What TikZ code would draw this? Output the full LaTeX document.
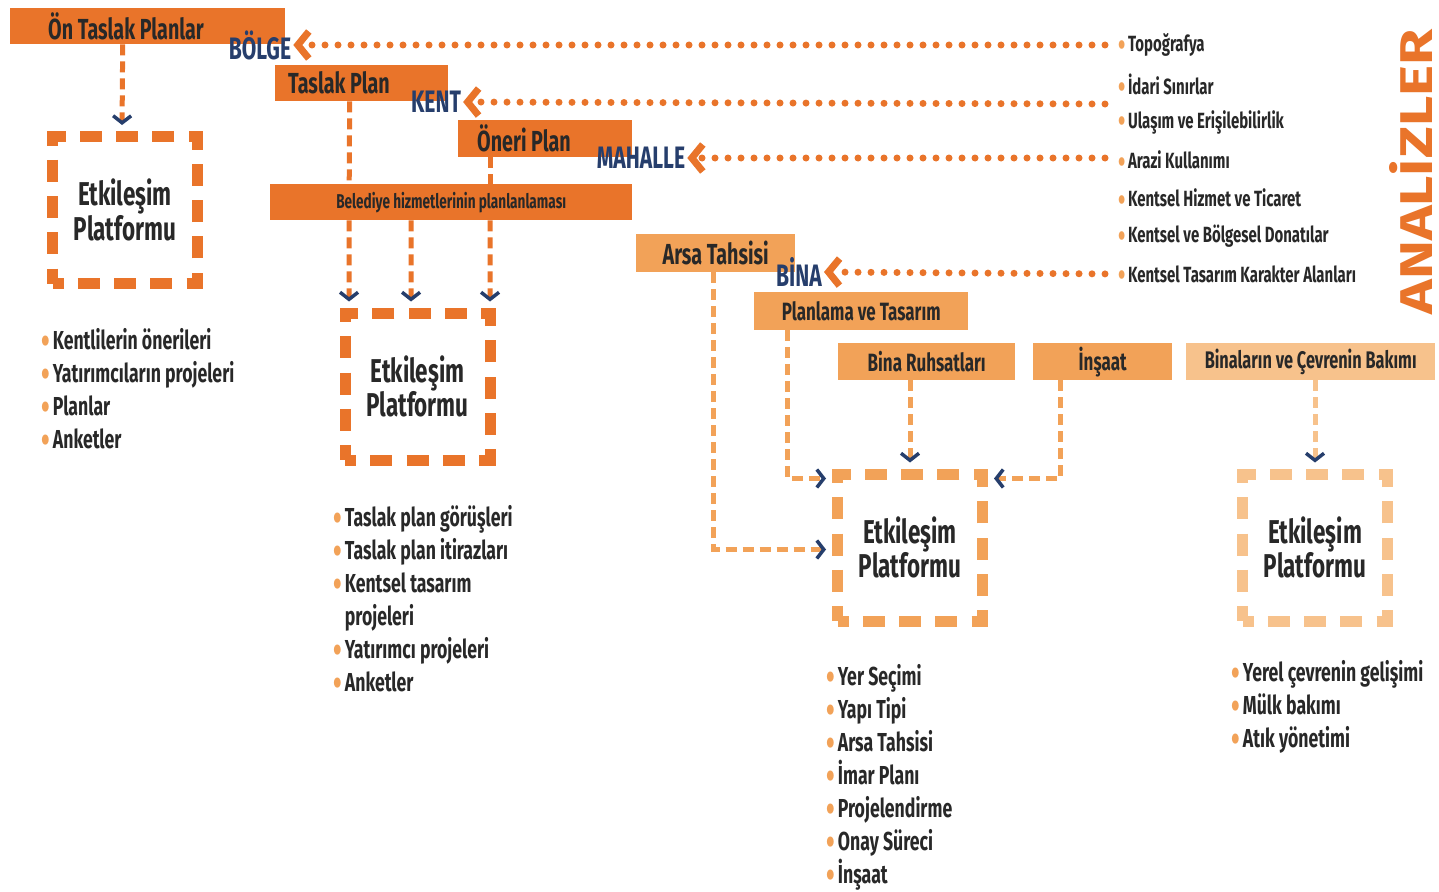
\documentclass[tikz,border=0pt]{standalone}
\usepackage{fontspec}
\setmainfont{Fira Sans}[FakeStretch=0.68]
\usepackage{graphicx}
\usetikzlibrary{arrows.meta,calc}
\definecolor{koyuturuncu}{RGB}{233,116,42}
\definecolor{ortaturuncu}{RGB}{242,162,88}
\definecolor{acikturuncu}{RGB}{247,194,140}
\definecolor{lacivert}{RGB}{38,62,108}
\definecolor{metin}{RGB}{40,40,40}
\newcommand{\madde}{{\color{ortaturuncu}\raisebox{-0.17em}[0pt][0pt]{\scalebox{1.4}{\textbullet}}}\hspace{0.12em}}
\newcommand{\maddebos}{\phantom{\scalebox{1.4}{\textbullet}}\hspace{0.12em}}
\tikzset{
  plankutu/.style={fill=#1, anchor=north west, inner ysep=0pt, text=metin,
    font=\bfseries\fontsize{29}{29}\selectfont},
  plankutu/.default=koyuturuncu,
  platform/.style={draw=#1, line width=11pt, dash pattern=on 22pt off 14.25pt,
    dash phase=11pt, minimum width=145pt, minimum height=147pt, inner sep=0pt,
    align=center, text=metin, font=\bfseries\fontsize{33}{33}\selectfont},
  platform/.default=koyuturuncu,
  seviye/.style={text=lacivert, inner sep=2pt, font=\bfseries\fontsize{31}{31}\selectfont},
  baglanti/.style={draw=#1, line width=5pt, dash pattern=on 11pt off 6pt},
  baglanti/.default=koyuturuncu,
  ok/.style={-{Straight Barb[length=7pt,width=18pt,line width=3.5pt,color=lacivert]},
    shorten >=6pt},
  analizcizgi/.style={draw=koyuturuncu, line width=7pt, line cap=round,
    dash pattern=on 0pt off 13pt,
    -{Straight Barb[length=11pt,width=27pt,line width=7pt,color=koyuturuncu]}},
  analizmadde/.style={anchor=west, inner sep=0pt, text=metin,
    font=\bfseries\fontsize{22}{22}\selectfont},
  liste/.style={anchor=north west, align=left, inner sep=0pt, text=metin,
    font=\bfseries\fontsize{26}{33}\selectfont}
}
\begin{document}
\begin{tikzpicture}[x=1pt,y=-1pt]
\useasboundingbox[fill=white] (0,0) rectangle (1439,891);
% plan kutulari
\node[plankutu, minimum height=36pt, inner xsep=38pt, text width=199pt, align=flush left] (ontaslak) at (10,8) {Ön Taslak Planlar};
\node[plankutu, minimum height=36pt, inner xsep=13pt, text width=147pt, align=flush left] (taslak) at (275,65) {Taslak Plan};
\node[plankutu, minimum height=37pt, inner xsep=19pt, text width=136pt, align=flush left] (oneri) at (458,120) {Öneri Plan};
\node[plankutu, minimum width=362pt, minimum height=36pt, font=\bfseries\fontsize{20}{20}\selectfont] (belediye) at (270,184) {Belediye hizmetlerinin planlanlaması};
\node[plankutu=ortaturuncu, minimum width=159pt, minimum height=38pt] (arsa) at (636,234) {Arsa Tahsisi};
\node[plankutu=ortaturuncu, minimum width=214pt, minimum height=38pt, font=\bfseries\fontsize{25}{25}\selectfont] (planlama) at (754,292) {Planlama ve Tasarım};
\node[plankutu=ortaturuncu, minimum width=177pt, minimum height=37pt, font=\bfseries\fontsize{25}{25}\selectfont] (ruhsat) at (838,343) {Bina Ruhsatları};
\node[plankutu=ortaturuncu, minimum width=139pt, minimum height=37pt, font=\bfseries\fontsize{25}{25}\selectfont] (insaat) at (1033,343) {İnşaat};
\node[plankutu=acikturuncu, minimum width=249pt, minimum height=37pt, font=\bfseries\fontsize{24}{24}\selectfont] (bakim) at (1186,343) {Binaların ve Çevrenin Bakımı};
% etkilesim platformlari
\node[platform] (ep1) at (125,210) {Etkileşim\\Platformu};
\node[platform] (ep2) at (417.5,386.5) {Etkileşim\\Platformu};
\node[platform=ortaturuncu] (ep3) at (910,547.5) {Etkileşim\\Platformu};
\node[platform=acikturuncu] (ep4) at (1315,547.5) {Etkileşim\\Platformu};
% baglantilar
\draw[baglanti, ok] ([xshift=-25pt]ontaslak.south) -- ([xshift=-3pt]ep1.north);
\draw[baglanti] ([xshift=-12pt]taslak.south) -- ([xshift=-102pt]belediye.north);
\draw[baglanti] ([xshift=-55pt]oneri.south) -- ([xshift=39pt]belediye.north);
\draw[baglanti, ok] ([xshift=-102pt]belediye.south) -- ([xshift=-68.5pt]ep2.north);
\draw[baglanti, ok] ([xshift=-40pt]belediye.south) -- ([xshift=-6.5pt]ep2.north);
\draw[baglanti, ok] ([xshift=39pt]belediye.south) -- ([xshift=72.5pt]ep2.north);
\draw[baglanti=ortaturuncu, ok] ([xshift=-2pt]arsa.south) |- ([yshift=-2pt]ep3.west);
\draw[baglanti=ortaturuncu, ok] ([xshift=-74pt]planlama.south) |- ([yshift=-10pt]ep3.north west);
\draw[baglanti=ortaturuncu, ok] (ep3.north |- ruhsat.south) -- (ep3.north);
\draw[baglanti=ortaturuncu, ok] ([xshift=-42pt]insaat.south) |- ([yshift=-10pt]ep3.north east);
\draw[baglanti=acikturuncu, ok] (ep4.north |- bakim.south) -- (ep4.north);
% seviyeler
\node[seviye] (bolge) at (260,45) {BÖLGE};
\node[seviye] (kent) at (436,102) {KENT};
\node[seviye] (mahalle) at (641,158) {MAHALLE};
\node[seviye] (bina) at (799,272) {BİNA};
% analizler
\node[analizmadde] (topo) at (1118,45) {\madde Topoğrafya};
\node[analizmadde] (idari) at (1118,84) {\madde İdari Sınırlar};
\node[analizmadde] (ulasim) at (1118,122) {\madde Ulaşım ve Erişilebilirlik};
\node[analizmadde] (arazi) at (1118,160) {\madde Arazi Kullanımı};
\node[analizmadde] (hizmet) at (1118,198) {\madde Kentsel Hizmet ve Ticaret};
\node[analizmadde] (donati) at (1118,236) {\madde Kentsel ve Bölgesel Donatılar};
\node[analizmadde] (karakter) at (1118,274) {\madde Kentsel Tasarım Karakter Alanları};
\coordinate (kentuc) at (1105,104);
\node[rotate=90, inner sep=0pt, text=koyuturuncu, font=\bfseries\fontsize{61}{61}\selectfont] (analizler) at (1411,172) {\resizebox{285pt}{43pt}{ANALİZLER}};
\draw[analizcizgi, shorten <=13pt] (topo.west) -- (bolge.east);
\draw[analizcizgi] (kentuc) -- (kent.east);
\draw[analizcizgi, shorten <=13pt] (arazi.west |- mahalle.east) -- (mahalle.east);
\draw[analizcizgi, shorten <=13pt] (karakter.west) -- (bina.east);
% listeler
\node[liste] (liste1) at (41,328) {\madde Kentlilerin önerileri\\\madde Yatırımcıların projeleri\\\madde Planlar\\\madde Anketler};
\node[liste] (liste2) at (333,505) {\madde Taslak plan görüşleri\\\madde Taslak plan itirazları\\\madde Kentsel tasarım\\\maddebos projeleri\\\madde Yatırımcı projeleri\\\madde Anketler};
\node[liste] (liste3) at (826,664) {\madde Yer Seçimi\\\madde Yapı Tipi\\\madde Arsa Tahsisi\\\madde İmar Planı\\\madde Projelendirme\\\madde Onay Süreci\\\madde İnşaat};
\node[liste] (liste4) at (1231,660) {\madde Yerel çevrenin gelişimi\\\madde Mülk bakımı\\\madde Atık yönetimi};
\end{tikzpicture}
\end{document}
